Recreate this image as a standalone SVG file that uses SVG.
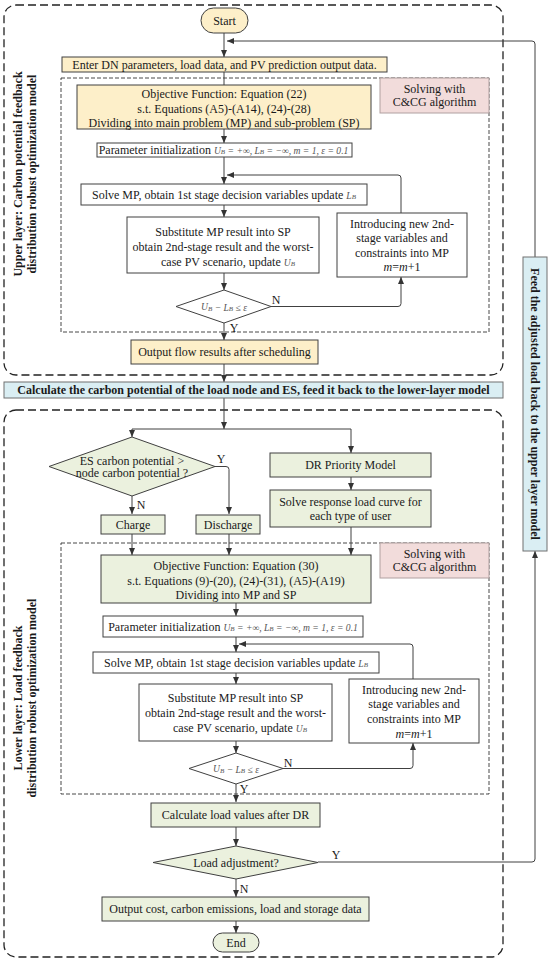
<svg xmlns="http://www.w3.org/2000/svg" width="550" height="960" viewBox="0 0 550 960">
<style>
.bx{stroke:#404040;stroke-width:1}
.y{fill:#fdefc9}
.g{fill:#ebf1de}
.w{fill:#ffffff}
.p{fill:#f2dcdb;stroke:#b0a0a0;stroke-width:1}
.bl{fill:#daeef3;stroke:#707070;stroke-width:1}
text{font-family:"Liberation Serif","Times New Roman",serif;font-size:12px;fill:#1a1a1a;text-anchor:middle;dominant-baseline:central}
.bold{font-weight:bold}
.m{font-style:italic;fill:#555;font-size:9.6px}
.s{font-size:7px}
.od{fill:none;stroke:#222;stroke-width:1.3;stroke-dasharray:8 4}
.id{fill:none;stroke:#333;stroke-width:0.9;stroke-dasharray:4 2}
.c{fill:none;stroke:#404040;stroke-width:1}
</style>
<defs>
<marker id="a" markerWidth="7" markerHeight="6" refX="7" refY="3" orient="auto" markerUnits="userSpaceOnUse"><path d="M0,0 L7,3 L0,6 z" fill="#333"/></marker>
</defs>
<rect width="550" height="960" fill="#ffffff"/>

<g id="regions">
<rect class="od" x="4" y="5" width="499" height="370" rx="12"/>
<rect class="od" x="4" y="410" width="499" height="547" rx="12"/>
<rect class="id" x="61" y="78" width="428" height="254"/>
<rect class="id" x="61" y="543" width="428" height="251"/>
<text class="bold" font-size="10.2" transform="translate(18,174) rotate(-90)">Upper layer: Carbon potential feedback</text>
<text class="bold" font-size="10.2" transform="translate(32,174) rotate(-90)">distribution robust optimization model</text>
<text class="bold" font-size="10.2" transform="translate(18,698) rotate(-90)">Lower layer: Load feedback</text>
<text class="bold" font-size="10.2" transform="translate(32,698) rotate(-90)">distribution robust optimization model</text>
</g>

<g id="connectors">
<path class="c" d="M224,33 V57" marker-end="url(#a)"/>
<path class="c" d="M535,257 V44 Q535,41 532,41 H227" marker-end="url(#a)"/>
<path class="c" d="M224,72 V85"/>
<path class="c" d="M224,129 V143" marker-end="url(#a)"/>
<path class="c" d="M224,157 V184" marker-end="url(#a)"/>
<path class="c" d="M401,213 V178 Q401,175 398,175 H227" marker-end="url(#a)"/>
<path class="c" d="M224,205 V217" marker-end="url(#a)"/>
<path class="c" d="M224,273 V290" marker-end="url(#a)"/>
<path class="c" d="M271,306.5 H398 Q401,306.5 401,303.5 V277" marker-end="url(#a)"/>
<path class="c" d="M224,323 V340" marker-end="url(#a)"/>
<path class="c" d="M224,364 V382" marker-end="url(#a)"/>
<path class="c" d="M224,398 V429" marker-end="url(#a)"/>
<path class="c" d="M224,429 H132 V437" marker-end="url(#a)"/>
<path class="c" d="M224,429 H351 V453" marker-end="url(#a)"/>
<path class="c" d="M215,466.5 H226 Q229,466.5 229,469.5 V514" marker-end="url(#a)"/>
<path class="c" d="M132,496 V514" marker-end="url(#a)"/>
<path class="c" d="M351,477 V490" marker-end="url(#a)"/>
<path class="c" d="M132,534 V555" marker-end="url(#a)"/>
<path class="c" d="M229,534 V555" marker-end="url(#a)"/>
<path class="c" d="M351,527 V555" marker-end="url(#a)"/>
<path class="c" d="M236,603 V616" marker-end="url(#a)"/>
<path class="c" d="M236,637 V652" marker-end="url(#a)"/>
<path class="c" d="M413,679 V647 Q413,644 410,644 H239" marker-end="url(#a)"/>
<path class="c" d="M236,673 V684" marker-end="url(#a)"/>
<path class="c" d="M236,741 V753" marker-end="url(#a)"/>
<path class="c" d="M283,768.5 H410 Q413,768.5 413,765.5 V743" marker-end="url(#a)"/>
<path class="c" d="M236,784 V802" marker-end="url(#a)"/>
<path class="c" d="M236,827 V846" marker-end="url(#a)"/>
<path class="c" d="M318,862 H532 Q535,862 535,859 V551" marker-end="url(#a)"/>
<path class="c" d="M236,879 V897" marker-end="url(#a)"/>
<path class="c" d="M236,921 V933" marker-end="url(#a)"/>
<text x="276" y="300">N</text>
<text x="234" y="328">Y</text>
<text x="221" y="459">Y</text>
<text x="141" y="505">N</text>
<text x="288" y="763">N</text>
<text x="244" y="789">Y</text>
<text x="336" y="855">Y</text>
<text x="244" y="889">N</text>
</g>

<g id="start"><rect class="bx y" x="201" y="8" width="47" height="25" rx="12.5"/><text x="224.5" y="20.5">Start</text></g>
<g id="input"><rect class="bx y" x="62" y="57" width="325" height="15"/><text x="224.5" y="64.5">Enter DN parameters, load data, and PV prediction output data.</text></g>
<g id="solving-upper"><rect class="p" x="380" y="78" width="109" height="35"/><text x="434.5" y="89">Solving with</text><text x="434.5" y="102">C&amp;CG algorithm</text></g>
<g id="objective-upper"><rect class="bx y" x="77" y="85" width="294" height="44"/><text x="224" y="94">Objective Function: Equation (22)</text><text x="224" y="108.5">s.t. Equations (A5)-(A14), (24)-(28)</text><text x="224" y="123">Dividing into main problem (MP) and sub-problem (SP)</text></g>
<g id="init-upper"><rect class="bx w" x="97" y="143" width="255" height="14"/><text x="223.5" y="150">Parameter initialization <tspan class="m">U<tspan class="s" dy="2">B</tspan><tspan dy="-2"> = +∞, L</tspan><tspan class="s" dy="2">B</tspan><tspan dy="-2"> = −∞, m = 1, ε = 0.1</tspan></tspan></text></g>
<g id="solve-upper"><rect class="bx w" x="81" y="184" width="286" height="21"/><text x="224" y="195">Solve MP, obtain  1st stage decision variables update <tspan class="m" font-size="11">L<tspan class="s" dy="2">B</tspan></tspan></text></g>
<g id="sub-upper"><rect class="bx w" x="127" y="217" width="192" height="56"/><text x="223" y="231.5">Substitute MP result into SP</text><text x="223" y="246.5">obtain 2nd-stage result and the worst-</text><text x="228" y="261.5">case PV scenario, update <tspan class="m" font-size="11">U<tspan class="s" dy="2">B</tspan></tspan></text></g>
<g id="intro-upper"><rect class="bx w" x="337" y="213" width="130" height="64"/><text x="402" y="223.5">Introducing new 2nd-</text><text x="402" y="238">stage variables and</text><text x="402" y="252.5">constraints into MP</text><text x="402" y="267"><tspan font-style="italic">m</tspan>=<tspan font-style="italic">m</tspan>+1</text></g>
<g id="cond-upper"><polygon class="bx w" points="224,290 271,306.5 224,323 176,306.5"/><text x="224" y="306.5" class="m" font-size="11.5">U<tspan class="s" dy="2">B</tspan><tspan dy="-2"> − L</tspan><tspan class="s" dy="2">B</tspan><tspan dy="-2"> ≤ ε</tspan></text></g>
<g id="output-flow"><rect class="bx y" x="131" y="340" width="187" height="24"/><text x="224.5" y="352">Output flow results after scheduling</text></g>
<g id="banner"><rect class="bl" x="4" y="382" width="499" height="16"/><text class="bold" font-size="11.3" x="253.5" y="390">Calculate the carbon potential of the load node and ES, feed it back to the lower-layer model</text></g>
<g id="feedback"><rect class="bl" x="523" y="257" width="24" height="294"/><text class="bold" font-size="12.3" transform="translate(535,404) rotate(90)">Feed the adjusted load back to the upper layer model</text></g>

<g id="es-cond"><polygon class="bx g" points="132,437 215,466.5 132,496 49,466.5"/><text x="132" y="460.5" font-size="10.5">ES carbon potential &gt;</text><text x="132" y="473" font-size="10.5">node carbon potential ?</text></g>
<g id="charge"><rect class="bx g" x="101" y="515" width="64" height="19"/><text x="133" y="524.5">Charge</text></g>
<g id="discharge"><rect class="bx g" x="196" y="515" width="64" height="19"/><text x="228" y="524.5">Discharge</text></g>
<g id="dr"><rect class="bx g" x="270" y="453" width="161" height="24"/><text x="350.5" y="465">DR Priority Model</text></g>
<g id="response"><rect class="bx g" x="270" y="490" width="161" height="37"/><text x="350.5" y="502">Solve response load curve for</text><text x="350.5" y="516">each type of user</text></g>
<g id="solving-lower"><rect class="p" x="380" y="543" width="109" height="35"/><text x="434.5" y="553.5">Solving with</text><text x="434.5" y="567">C&amp;CG algorithm</text></g>
<g id="objective-lower"><rect class="bx g" x="101" y="555" width="270" height="48"/><text x="236" y="565.5">Objective Function: Equation (30)</text><text x="236" y="580.5">s.t. Equations (9)-(20), (24)-(31), (A5)-(A19)</text><text x="236" y="595">Dividing into MP and SP</text></g>
<g id="init-lower"><rect class="bx w" x="103" y="616" width="260" height="21"/><text x="233" y="626.5">Parameter initialization  <tspan class="m">U<tspan class="s" dy="2">B</tspan><tspan dy="-2"> = +∞, L</tspan><tspan class="s" dy="2">B</tspan><tspan dy="-2"> = −∞, m = 1, ε = 0.1</tspan></tspan></text></g>
<g id="solve-lower"><rect class="bx w" x="93" y="652" width="286" height="21"/><text x="236" y="663">Solve MP, obtain  1st stage decision variables update  <tspan class="m" font-size="11">L<tspan class="s" dy="2">B</tspan></tspan></text></g>
<g id="sub-lower"><rect class="bx w" x="139" y="684" width="193" height="57"/><text x="235.5" y="698">Substitute MP result into SP</text><text x="235.5" y="713">obtain 2nd-stage result and the worst-</text><text x="240" y="728">case PV scenario, update <tspan class="m" font-size="11">U<tspan class="s" dy="2">B</tspan></tspan></text></g>
<g id="intro-lower"><rect class="bx w" x="349" y="679" width="130" height="64"/><text x="414" y="689.5">Introducing new 2nd-</text><text x="414" y="704">stage variables and</text><text x="414" y="719">constraints into MP</text><text x="414" y="734"><tspan font-style="italic">m</tspan>=<tspan font-style="italic">m</tspan>+1</text></g>
<g id="cond-lower"><polygon class="bx w" points="236,753 283,768.5 236,784 189,768.5"/><text x="236" y="768.5" class="m" font-size="11.5">U<tspan class="s" dy="2">B</tspan><tspan dy="-2"> − L</tspan><tspan class="s" dy="2">B</tspan><tspan dy="-2"> ≤ ε</tspan></text></g>
<g id="calc-load"><rect class="bx g" x="151" y="803" width="169" height="24"/><text x="235.5" y="815">Calculate load values after DR</text></g>
<g id="load-adj"><polygon class="bx g" points="236,846 318,862.5 236,879 153,862.5"/><text x="236" y="862.5">Load adjustment?</text></g>
<g id="output-final"><rect class="bx g" x="102" y="897" width="267" height="24"/><text x="235.5" y="909">Output cost, carbon emissions, load and storage data</text></g>
<g id="end"><rect class="bx g" x="213" y="933" width="46" height="19" rx="9.5"/><text x="236" y="942.5">End</text></g>
</svg>
